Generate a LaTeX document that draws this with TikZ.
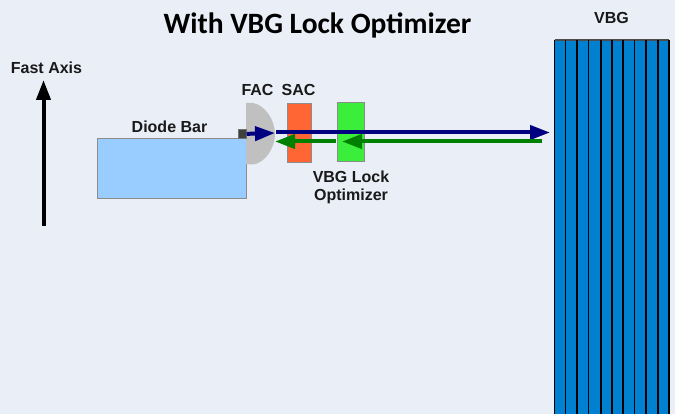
\documentclass[tikz,border=0pt]{standalone}
\usepackage{fontspec}
\setmainfont{Liberation Sans}
\newfontfamily\titlefont{Carlito}
\usetikzlibrary{arrows.meta,positioning,calc}
\definecolor{pagebg}{HTML}{EAEFF7}
\definecolor{barblue}{HTML}{99CCFF}
\definecolor{sacred}{HTML}{FF6633}
\definecolor{lockgreen}{HTML}{3CEE3C}
\definecolor{gratingblue}{HTML}{0080D0}
\definecolor{facgray}{HTML}{C0C0C0}
\definecolor{beamgreen}{HTML}{008000}
\begin{document}
\begin{tikzpicture}[x=1pt,y=-1pt,
    part/.style={draw=black!45, line width=1pt, inner sep=0pt, anchor=north west},
    label/.style={font=\bfseries\fontsize{16}{18}\selectfont, align=center, text=black!90, inner sep=0pt},
    bluebeam/.style={draw=blue!50!black, line width=4pt, -{Triangle[length=20pt,width=14pt]}},
    greenbeam/.style={draw=beamgreen, line width=4pt, -{Triangle[length=20pt,width=14pt]}}]

\useasboundingbox (0,0) rectangle (675,414);
\fill[pagebg] (0,0) rectangle (675,414);

% optics
\node[part, fill=barblue, minimum width=149pt, minimum height=60pt] (bar) at (97,138) {};
\node[part, fill=sacred, minimum width=24pt, minimum height=59pt] (sac) at (287,103) {};
\node[part, fill=lockgreen, minimum width=27pt, minimum height=59pt] (lock) at (337,102) {};
\fill[facgray] (246,103) -- (253,103) .. controls (265,105) and (275,120) .. (275,134) .. controls (275,148) and (265,163) .. (253,164.5) -- (246,164.5) -- cycle;
\node[draw=black!55, fill=black!75, line width=0.7pt, minimum width=8pt, minimum height=9pt, inner sep=0pt, anchor=north west] (chip) at (238,129) {};

% grating
\fill[gratingblue] (555,40) rectangle (669,414);
\draw[black!70, line width=1.5pt] (554.5,40) -- (669,40);
\foreach \gx in {554.5,565.5,577,588.5,601,612,623,634.5,646,658,669}
  \draw[black, line width=1.5pt] (\gx,40) -- (\gx,414);

% beams
\coordinate (fac) at (275,133);
\coordinate (facout) at (276,132.5);
\coordinate (vbg) at (550,132.5);
\coordinate (vbgback) at (542,141.5);
\coordinate (lockin) at (342,141.5);
\coordinate (lockout) at (336,141.5);
\coordinate (facback) at (275,141.5);
\draw[bluebeam] (chip.east) -- (fac);
\draw[bluebeam] (facout) -- (vbg);
\draw[greenbeam] (vbgback) -- (lockin);
\draw[greenbeam] (lockout) -- (facback);

% fast axis
\coordinate (axisfoot) at (43.5,226);
\coordinate (axistip) at (43.5,80);
\draw[black, line width=4pt, -{Triangle[length=20pt,width=14pt]}] (axisfoot) -- (axistip);

% labels
\node[font=\titlefont\bfseries\fontsize{29.5}{32}\selectfont, inner sep=0pt] (title) at (317.5,25) {With VBG Lock Optimizer};
\node[label] (fastlabel) at (46.5,67.5) {Fast Axis};
\node[label] (barlabel) at (169.5,127) {Diode Bar};
\node[label] (faclabel) at (257.5,89.5) {FAC};
\node[label] (saclabel) at (298.5,89.5) {SAC};
\node[label] (locklabel) at (351,187.5) {VBG Lock\\Optimizer};
\node[label] (vbglabel) at (611.5,18) {VBG};
\end{tikzpicture}
\end{document}
